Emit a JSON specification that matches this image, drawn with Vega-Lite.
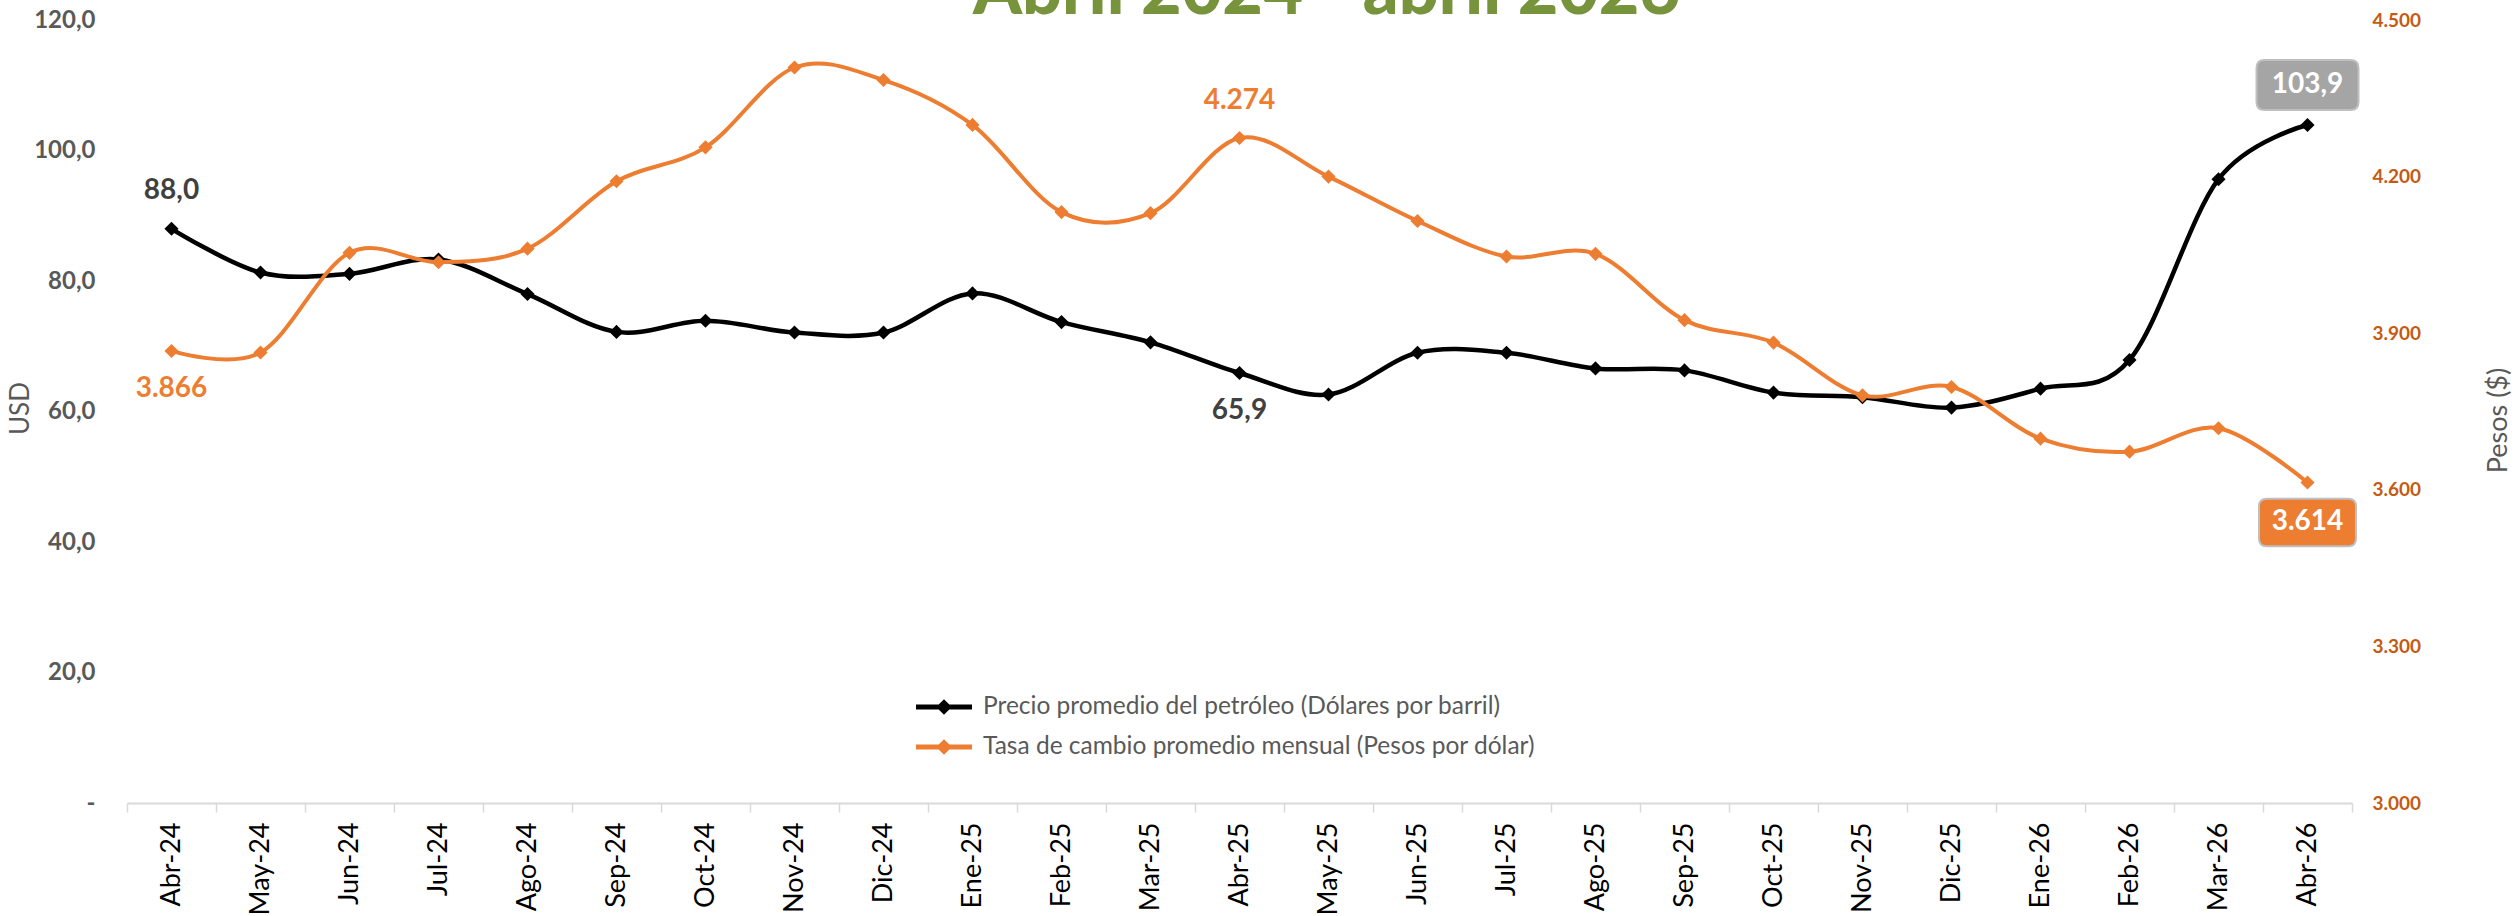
{
  "$schema": "https://vega.github.io/schema/vega-lite/v6.json",
  "width": 2225,
  "height": 783,
  "autosize": {"type": "none"},
  "padding": {"left": 127, "top": 20, "right": 167, "bottom": 113},
  "background": "white",
  "config": {
    "locale": {"number": {"decimal": ",", "thousands": ".", "grouping": [3], "currency": ["$", ""]}},
    "view": {"stroke": null},
    "font": "Lato"
  },
  "title": {
    "text": "Abril 2024 - abril 2026",
    "font": "Lato",
    "fontSize": 70,
    "fontWeight": 900,
    "color": "#77933c",
    "anchor": "middle",
    "frame": "group",
    "baseline": "alphabetic",
    "dx": 87,
    "offset": -76
  },
  "data": {
    "values": [
      {"mes": "Abr-24", "petroleo": 88.0, "tasa": 3866},
      {"mes": "May-24", "petroleo": 81.3, "tasa": 3863},
      {"mes": "Jun-24", "petroleo": 81.1, "tasa": 4054},
      {"mes": "Jul-24", "petroleo": 83.3, "tasa": 4036},
      {"mes": "Ago-24", "petroleo": 78.0, "tasa": 4062},
      {"mes": "Sep-24", "petroleo": 72.2, "tasa": 4191},
      {"mes": "Oct-24", "petroleo": 73.9, "tasa": 4256},
      {"mes": "Nov-24", "petroleo": 72.1, "tasa": 4409},
      {"mes": "Dic-24", "petroleo": 72.1, "tasa": 4385},
      {"mes": "Ene-25", "petroleo": 78.1, "tasa": 4299},
      {"mes": "Feb-25", "petroleo": 73.7, "tasa": 4132},
      {"mes": "Mar-25", "petroleo": 70.6, "tasa": 4130},
      {"mes": "Abr-25", "petroleo": 65.9, "tasa": 4274},
      {"mes": "May-25", "petroleo": 62.6, "tasa": 4200},
      {"mes": "Jun-25", "petroleo": 69.0, "tasa": 4115},
      {"mes": "Jul-25", "petroleo": 69.0, "tasa": 4047},
      {"mes": "Ago-25", "petroleo": 66.6, "tasa": 4052},
      {"mes": "Sep-25", "petroleo": 66.3, "tasa": 3925},
      {"mes": "Oct-25", "petroleo": 62.9, "tasa": 3882},
      {"mes": "Nov-25", "petroleo": 62.2, "tasa": 3781},
      {"mes": "Dic-25", "petroleo": 60.6, "tasa": 3797},
      {"mes": "Ene-26", "petroleo": 63.5, "tasa": 3698},
      {"mes": "Feb-26", "petroleo": 67.9, "tasa": 3673},
      {"mes": "Mar-26", "petroleo": 95.6, "tasa": 3718},
      {"mes": "Abr-26", "petroleo": 103.9, "tasa": 3614}
    ]
  },
  "encoding": {
    "x": {
      "field": "mes",
      "type": "ordinal",
      "sort": null,
      "scale": {"type": "band", "paddingInner": 0, "paddingOuter": 0},
      "axis": {
        "title": null,
        "labelAngle": -90,
        "labelAlign": "right",
        "labelBaseline": "middle",
        "labelFont": "Lato",
        "labelFontSize": 27,
        "labelColor": "#000000",
        "labelPadding": 10,
        "tickBand": "extent",
        "tickSize": 9,
        "tickColor": "#d9d9d9",
        "tickWidth": 1.5,
        "domainColor": "#d9d9d9",
        "domainWidth": 2,
        "grid": false
      }
    }
  },
  "layer": [
    {
      "encoding": {
        "y": {
          "field": "petroleo",
          "type": "quantitative",
          "scale": {"domain": [0, 120], "nice": false},
          "axis": {
            "orient": "left",
            "title": "USD",
            "titleFont": "Lato",
            "titleFontSize": 26,
            "titleFontWeight": "normal",
            "titleColor": "#595959",
            "titleX": -107,
            "titleY": 388,
            "titleAngle": 270,
            "titleAlign": "center",
            "titleBaseline": "middle",
            "values": [0, 20, 40, 60, 80, 100, 120],
            "format": ".1f",
            "labelExpr": "datum.value == 0 ? '-\u00a0\u00a0\u00a0' : datum.label",
            "labelFont": "Lato",
            "labelFontSize": 24,
            "labelFontWeight": "bold",
            "labelColor": "#595959",
            "labelPadding": 32,
            "domain": false,
            "ticks": false,
            "grid": false
          }
        }
      },
      "layer": [
        {
          "mark": {"type": "line", "interpolate": "cardinal", "strokeWidth": 4.5, "point": {"shape": "diamond", "size": 200, "filled": true}},
          "encoding": {
            "color": {
              "datum": "Precio promedio del petróleo (Dólares por barril)",
              "scale": {
                "domain": ["Precio promedio del petróleo (Dólares por barril)", "Tasa de cambio promedio mensual (Pesos por dólar)"],
                "range": ["#000000", "#ed7d31"]
              },
              "legend": {
                "orient": "none",
                "legendX": 789,
                "legendY": 659,
                "title": null,
                "padding": 0,
                "symbolType": "M -1 -0.09 L -0.19 -0.09 L 0 -0.28 L 0.19 -0.09 L 1 -0.09 L 1 0.09 L 0.19 0.09 L 0 0.28 L -0.19 0.09 L -1 0.09 Z",
                "symbolSize": 3136,
                "symbolStrokeWidth": 0,
                "labelFont": "Lato",
                "labelFontSize": 24.5,
                "labelColor": "#595959",
                "labelOffset": 11,
                "labelLimit": 800,
                "rowPadding": -21,
                "encode": {"symbols": {"update": {"fill": {"scale": "color", "field": "value"}, "strokeWidth": {"value": 0}}}}
              }
            }
          }
        },
        {
          "transform": [{"filter": {"field": "mes", "oneOf": ["Abr-24"]}}],
          "mark": {"type": "text", "yOffset": -38, "font": "Lato", "fontSize": 28, "fontWeight": "bold", "color": "#404040", "align": "center", "baseline": "middle"},
          "encoding": {"text": {"field": "petroleo", "type": "quantitative", "format": ".1f"}}
        },
        {
          "transform": [{"filter": {"field": "mes", "oneOf": ["Abr-25"]}}],
          "mark": {"type": "text", "yOffset": 38, "font": "Lato", "fontSize": 28, "fontWeight": "bold", "color": "#404040", "align": "center", "baseline": "middle"},
          "encoding": {"text": {"field": "petroleo", "type": "quantitative", "format": ".1f"}}
        },
        {
          "transform": [{"filter": {"field": "mes", "oneOf": ["Abr-26"]}}],
          "mark": {"type": "point", "yOffset": -40, "shape": "M -0.84 -0.49 L 0.84 -0.49 Q 1 -0.49 1 -0.33 L 1 0.33 Q 1 0.49 0.84 0.49 L -0.84 0.49 Q -1 0.49 -1 0.33 L -1 -0.33 Q -1 -0.49 -0.84 -0.49 Z", "size": 10404, "filled": true, "fill": "#a5a5a5", "stroke": "#bfbfbf", "strokeWidth": 2, "opacity": 1, "fillOpacity": 1}
        },
        {
          "transform": [{"filter": {"field": "mes", "oneOf": ["Abr-26"]}}],
          "mark": {"type": "text", "yOffset": -40, "font": "Lato", "fontSize": 28, "fontWeight": "bold", "color": "#ffffff", "align": "center", "baseline": "middle"},
          "encoding": {"text": {"field": "petroleo", "type": "quantitative", "format": ".1f"}}
        }
      ]
    },
    {
      "encoding": {
        "y": {
          "field": "tasa",
          "type": "quantitative",
          "scale": {"domain": [3000, 4500], "nice": false, "zero": false},
          "axis": {
            "orient": "right",
            "title": "Pesos ($)",
            "titleFont": "Lato",
            "titleFontSize": 27,
            "titleFontWeight": "normal",
            "titleColor": "#595959",
            "titleX": 146,
            "titleY": 400,
            "titleAngle": 270,
            "titleAlign": "center",
            "titleBaseline": "middle",
            "values": [3000, 3300, 3600, 3900, 4200, 4500],
            "format": ",.0f",
            "labelFont": "Lato",
            "labelFontSize": 19,
            "labelFontWeight": "bold",
            "labelColor": "#c55a11",
            "labelPadding": 20,
            "domain": false,
            "ticks": false,
            "grid": false
          }
        }
      },
      "layer": [
        {
          "mark": {"type": "line", "interpolate": "cardinal", "strokeWidth": 4, "point": {"shape": "diamond", "size": 200, "filled": true}},
          "encoding": {"color": {"datum": "Tasa de cambio promedio mensual (Pesos por dólar)"}}
        },
        {
          "transform": [{"filter": {"field": "mes", "oneOf": ["Abr-24"]}}],
          "mark": {"type": "text", "yOffset": 38, "font": "Lato", "fontSize": 28, "fontWeight": "bold", "color": "#ed7d31", "align": "center", "baseline": "middle"},
          "encoding": {"text": {"field": "tasa", "type": "quantitative", "format": ",.0f"}}
        },
        {
          "transform": [{"filter": {"field": "mes", "oneOf": ["Abr-25"]}}],
          "mark": {"type": "text", "yOffset": -37, "font": "Lato", "fontSize": 28, "fontWeight": "bold", "color": "#ed7d31", "align": "center", "baseline": "middle"},
          "encoding": {"text": {"field": "tasa", "type": "quantitative", "format": ",.0f"}}
        },
        {
          "transform": [{"filter": {"field": "mes", "oneOf": ["Abr-26"]}}],
          "mark": {"type": "point", "yOffset": 40, "shape": "M -0.84 -0.49 L 0.84 -0.49 Q 1 -0.49 1 -0.33 L 1 0.33 Q 1 0.49 0.84 0.49 L -0.84 0.49 Q -1 0.49 -1 0.33 L -1 -0.33 Q -1 -0.49 -0.84 -0.49 Z", "size": 9409, "filled": true, "fill": "#ed7d31", "stroke": "#bfbfbf", "strokeWidth": 2, "opacity": 1, "fillOpacity": 1}
        },
        {
          "transform": [{"filter": {"field": "mes", "oneOf": ["Abr-26"]}}],
          "mark": {"type": "text", "yOffset": 40, "font": "Lato", "fontSize": 28, "fontWeight": "bold", "color": "#ffffff", "align": "center", "baseline": "middle"},
          "encoding": {"text": {"field": "tasa", "type": "quantitative", "format": ",.0f"}}
        }
      ]
    }
  ],
  "resolve": {"scale": {"y": "independent"}}
}
